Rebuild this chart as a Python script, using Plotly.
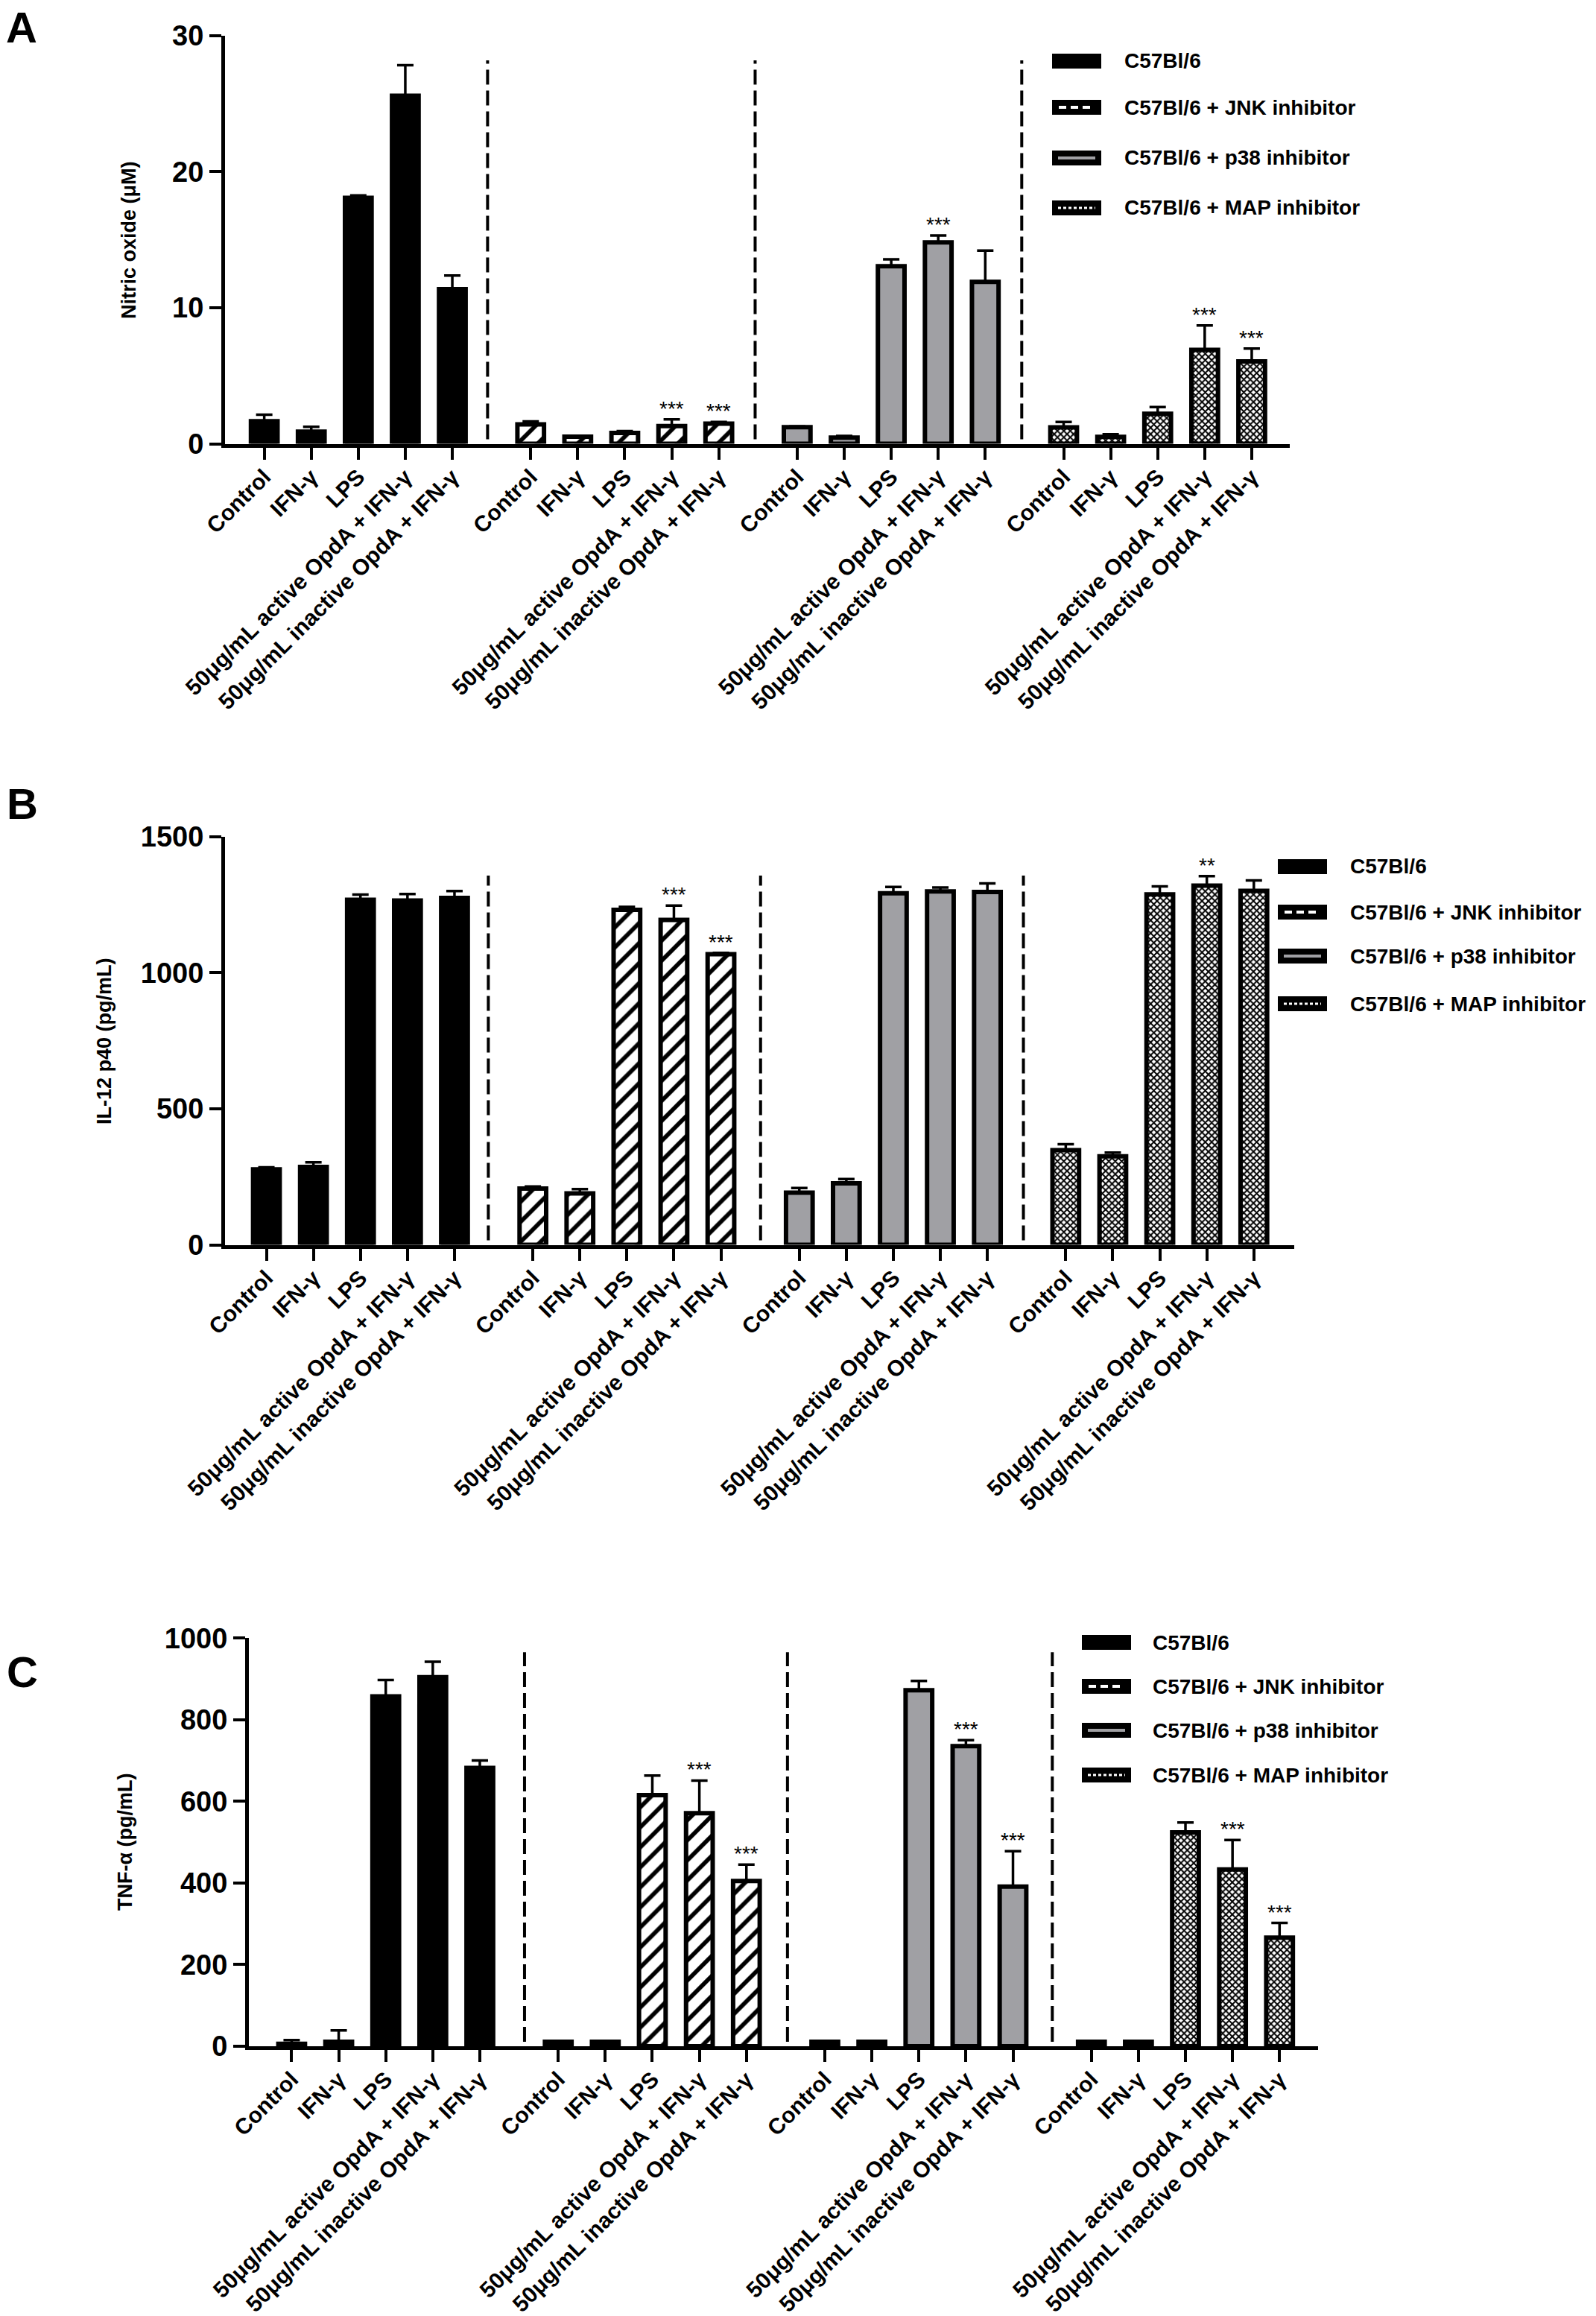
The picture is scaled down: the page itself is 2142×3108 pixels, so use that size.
import plotly.graph_objects as go

FIG_W, FIG_H = 2142, 3108
FONT = "Liberation Sans, Arial, sans-serif"

# ---------------- data ----------------
categories = ["Control", "IFN-γ", "LPS",
              "50μg/mL active OpdA + IFN-γ",
              "50μg/mL inactive OpdA + IFN-γ"]
series_names = ["C57Bl/6", "C57Bl/6 + JNK inhibitor",
                "C57Bl/6 + p38 inhibitor", "C57Bl/6 + MAP inhibitor"]

no_mean = [[1.66, 0.89, 18.07, 25.57, 11.36],
           [1.43, 0.52, 0.80, 1.30, 1.48],
           [1.22, 0.45, 13.05, 14.80, 11.90],
           [1.20, 0.50, 2.20, 6.90, 6.05]]
no_err = [[0.48, 0.36, 0.18, 2.25, 1.00],
          [0.21, 0.00, 0.13, 0.50, 0.12],
          [0.05, 0.12, 0.50, 0.50, 2.30],
          [0.40, 0.20, 0.50, 1.80, 0.95]]
no_sig = [["", "", "", "", ""],
          ["", "", "", "***", "***"],
          ["", "", "", "***", ""],
          ["", "", "", "***", "***"]]

il12_mean = [[277, 286, 1268, 1265, 1275],
             [207, 189, 1231, 1194, 1068],
             [192, 226, 1292, 1299, 1297],
             [348, 325, 1288, 1320, 1301]]
il12_err = [[8, 17, 19, 24, 25],
            [7, 16, 11, 53, 5],
            [17, 16, 23, 14, 31],
            [22, 14, 29, 35, 38]]
il12_sig = [["", "", "", "", ""],
            ["", "", "", "***", "***"],
            ["", "", "", "", ""],
            ["", "", "", "**", ""]]

tnf_mean = [[6, 11, 857, 904, 682],
            [11, 11, 615, 571, 405],
            [11, 11, 872, 735, 391],
            [11, 11, 524, 433, 266]]
tnf_err = [[9, 28, 40, 38, 18],
           [0, 0, 48, 80, 40],
           [0, 0, 23, 15, 87],
           [0, 0, 24, 72, 36]]
tnf_sig = [["", "", "", "", ""],
           ["", "", "", "***", "***"],
           ["", "", "", "***", "***"],
           ["", "", "", "***", "***"]]

y_titles = ["Nitric oxide (μM)", "IL-12 p40 (pg/mL)", "TNF-α (pg/mL)"]
y_ticks = [[0, 10, 20, 30], [0, 500, 1000, 1500], [0, 200, 400, 600, 800, 1000]]
panel_letters = ["A", "B", "C"]

# ---------------- layout helpers ----------------
def px_x(p):
    return p / FIG_W


def px_y(p):
    return 1 - p / FIG_H


GROUP_STEP = 5.667


def positions(g):
    return [g * GROUP_STEP + i for i in range(len(categories))]


fills = [
    dict(color="black"),
    dict(color="white", pattern=dict(shape="/", fgcolor="black", bgcolor="white",
                                     size=19, solidity=0.3)),
    dict(color="#a0a0a4"),
    dict(color="white", pattern=dict(shape="x", fgcolor="black", bgcolor="white",
                                     size=6.1, solidity=0.55)),
]

panels = [
    dict(mean=no_mean, err=no_err, sig=no_sig, yr=[0, 30],
         left=302, right=1731, top=47.7, bottom=595.5, xr=[-0.834, 21.81],
         seps=[4.75, 10.44, 16.11], sep_top=28.17,
         leg_rect=1412, leg_text=1507, leg_rows=[82, 144, 212, 279],
         letter=(29, 2), ytitle=(173, 322)),
    dict(mean=il12_mean, err=il12_err, sig=il12_sig, yr=[0, 1500],
         left=302, right=1737, top=1122.8, bottom=1670.5, xr=[-0.88, 21.86],
         seps=[4.72, 10.51, 16.10], sep_top=1357,
         leg_rect=1715, leg_text=1810, leg_rows=[1163, 1224, 1283, 1347],
         letter=(30, 1044), ytitle=(140, 1397)),
    dict(mean=tnf_mean, err=tnf_err, sig=tnf_sig, yr=[0, 1000],
         left=334, right=1769, top=2198.2, bottom=2746, xr=[-0.91, 21.82],
         seps=[4.95, 10.54, 16.17], sep_top=965,
         leg_rect=1452, leg_text=1545, leg_rows=[2204, 2263, 2322, 2382],
         letter=(30, 2209), ytitle=(168, 2472)),
]

fig = go.Figure()
shapes = []
annotations = []
layout_axes = {}

for k, p in enumerate(panels):
    sfx = "" if k == 0 else str(k + 1)
    xid, yid = "x" + sfx, "y" + sfx
    all_pos = []
    for g in range(4):
        xs = positions(g)
        all_pos += xs
        fig.add_trace(go.Bar(
            x=xs, y=p["mean"][g], width=0.566,
            marker=dict(line=dict(color="black", width=6), **fills[g]),
            error_y=dict(type="data", array=p["err"][g],
                         arrayminus=[0] * len(xs), symmetric=False,
                         color="black", thickness=3.5, width=11),
            xaxis=xid, yaxis=yid, showlegend=False, name=series_names[g]))
        for i, s in enumerate(p["sig"][g]):
            if s:
                annotations.append(dict(
                    x=xs[i], y=p["mean"][g][i] + p["err"][g][i], xref=xid, yref=yid,
                    text=s, showarrow=False, yanchor="bottom", yshift=-3,
                    font=dict(family=FONT, size=28, color="black")))
    layout_axes["xaxis" + sfx] = dict(
        domain=[px_x(p["left"]), px_x(p["right"])], range=p["xr"], anchor=yid,
        tickmode="array", tickvals=all_pos, ticktext=categories * 4,
        tickangle=-45, ticks="outside", ticklen=16, tickwidth=4, tickcolor="black",
        showline=True, linewidth=5, linecolor="black", showgrid=False, zeroline=False,
        automargin=False, ticklabelstandoff=-6,
        tickfont=dict(family=FONT, size=30, color="black", weight="bold"),
        fixedrange=True)
    layout_axes["yaxis" + sfx] = dict(
        domain=[px_y(p["bottom"]), px_y(p["top"])], range=p["yr"], anchor=xid,
        tickmode="array", tickvals=y_ticks[k], ticks="outside", ticklen=16,
        tickwidth=4, tickcolor="black", showline=True, linewidth=5,
        linecolor="black", showgrid=False, zeroline=False, automargin=False,
        tickfont=dict(family=FONT, size=38, color="black", weight="bold"),
        fixedrange=True)

    # dashed separators between groups
    ybot = p["yr"][1] * 6 / (p["bottom"] - p["top"])
    for sx in p["seps"]:
        shapes.append(dict(type="line", xref=xid, yref=yid, x0=sx, x1=sx,
                           y0=ybot, y1=p["sep_top"],
                           line=dict(color="black", width=4, dash="20px,8px")))

    # y title
    annotations.append(dict(
        x=px_x(p["ytitle"][0]), y=px_y(p["ytitle"][1]), xref="paper", yref="paper",
        text=y_titles[k], textangle=-90, showarrow=False, xanchor="center",
        yanchor="middle", font=dict(family=FONT, size=27, color="black", weight="bold")))
    # panel letter (box top given)
    annotations.append(dict(
        x=px_x(p["letter"][0]), y=px_y(p["letter"][1]), xref="paper", yref="paper",
        text=panel_letters[k], showarrow=False, xanchor="center", yanchor="top",
        font=dict(family=FONT, size=58, color="black", weight="bold")))

    # legend (drawn)
    rx0 = p["leg_rect"]
    rx1 = rx0 + 66
    for j, name in enumerate(series_names):
        cy = p["leg_rows"][j]
        shapes.append(dict(type="rect", xref="paper", yref="paper",
                           x0=px_x(rx0), x1=px_x(rx1), y0=px_y(cy + 10), y1=px_y(cy - 10),
                           fillcolor="black", line=dict(width=0)))
        if j == 1:
            shapes.append(dict(type="line", xref="paper", yref="paper",
                               x0=px_x(rx0 + 9), x1=px_x(rx1 - 9), y0=px_y(cy), y1=px_y(cy),
                               line=dict(color="white", width=4, dash="10px,6px")))
        elif j == 2:
            shapes.append(dict(type="line", xref="paper", yref="paper",
                               x0=px_x(rx0 + 8), x1=px_x(rx1 - 8), y0=px_y(cy), y1=px_y(cy),
                               line=dict(color="#a0a0a4", width=4)))
        elif j == 3:
            shapes.append(dict(type="line", xref="paper", yref="paper",
                               x0=px_x(rx0 + 8), x1=px_x(rx1 - 8), y0=px_y(cy), y1=px_y(cy),
                               line=dict(color="white", width=3, dash="4px,3px")))
        annotations.append(dict(
            x=px_x(p["leg_text"]), y=px_y(cy), xref="paper", yref="paper",
            text=name, showarrow=False, xanchor="left", yanchor="middle",
            font=dict(family=FONT, size=28, color="black", weight="bold")))

fig.update_layout(
    template="none",
    width=FIG_W, height=FIG_H, margin=dict(l=0, r=0, t=0, b=0, autoexpand=False),
    paper_bgcolor="white", plot_bgcolor="white", barmode="overlay",
    showlegend=False, shapes=shapes, annotations=annotations, **layout_axes)

fig.write_html("out.html", config={"displayModeBar": False},
               post_script="document.body.style.margin='0px';")
